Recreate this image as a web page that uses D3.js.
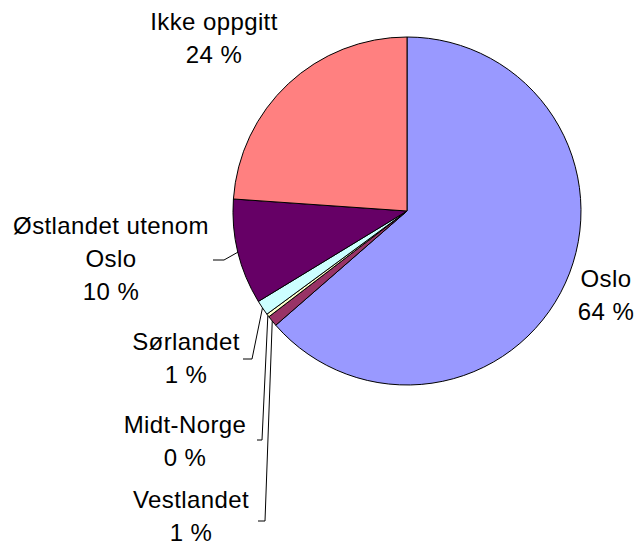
<!DOCTYPE html>
<html>
<head>
<meta charset="utf-8">
<script src="https://cdn.jsdelivr.net/npm/d3@7"></script>
<style>
  body { margin: 0; background: #fff; }
  text { font-family: "Liberation Sans", Arial, sans-serif; font-size: 24px; fill: #000; letter-spacing: 0.4px; }
</style>
</head>
<body>
<div id="chart"></div>
<script>
// slice order: clockwise from 12 o'clock
var regions = ["Oslo", "Vestlandet", "Midt-Norge", "Sørlandet", "Østlandet utenom Oslo", "Ikke oppgitt"];
var shares = [63.6, 1.0, 0.3, 1.4, 9.8, 23.9];
var shareLabels = ["64 %", "1 %", "0 %", "1 %", "10 %", "24 %"];
var sliceColors = ["#9999FF", "#993366", "#FFFFCC", "#CCFFFF", "#660066", "#FF8080"];

var width = 637, height = 546;
var cx = 407, cy = 211, radius = 174;
var lineGap = 33;

// label placement (text lines, centre x, first baseline, leader elbow)
var labelLayout = [
  { lines: ["Oslo"], x: 606, y: 287, leader: null },
  { lines: ["Vestlandet"], x: 191, y: 508, leader: [[258, 521], [265, 521]] },
  { lines: ["Midt-Norge"], x: 185, y: 433, leader: [[257, 440], [262, 440]] },
  { lines: ["Sørlandet"], x: 186, y: 350, leader: [[243, 359], [252, 359]] },
  { lines: ["Østlandet utenom", "Oslo"], x: 111, y: 234, leader: [[213, 260], [224, 260]] },
  { lines: ["Ikke oppgitt"], x: 214, y: 30, leader: null }
];

var svg = d3.select("#chart").append("svg")
  .attr("width", width).attr("height", height);

var pie = d3.pie().sort(null).value(function(d) { return d; });
var arcs = pie(shares);

var arc = d3.arc().innerRadius(0).outerRadius(radius);
var edgeArc = d3.arc().innerRadius(radius).outerRadius(radius);

var g = svg.append("g").attr("transform", "translate(" + cx + "," + cy + ")");

g.selectAll("path.slice").data(arcs).enter().append("path")
  .attr("class", "slice")
  .attr("d", arc)
  .attr("fill", function(d, i) { return sliceColors[i]; })
  .attr("stroke", "#000")
  .attr("stroke-width", 1)
  .attr("stroke-linejoin", "round");

// leader lines
arcs.forEach(function(d, i) {
  var lay = labelLayout[i];
  if (!lay.leader) return;
  var c = edgeArc.centroid(d);
  var pts = lay.leader.concat([[cx + c[0], cy + c[1]]]);
  svg.append("path")
    .attr("d", d3.line()(pts))
    .attr("fill", "none")
    .attr("stroke", "#000")
    .attr("stroke-width", 1);
});

// labels
labelLayout.forEach(function(lay, i) {
  var t = svg.append("text").attr("text-anchor", "middle");
  var all = lay.lines.concat([shareLabels[i]]);
  all.forEach(function(s, k) {
    t.append("tspan").attr("x", lay.x).attr("y", lay.y + k * lineGap).text(s);
  });
});
</script>
</body>
</html>
